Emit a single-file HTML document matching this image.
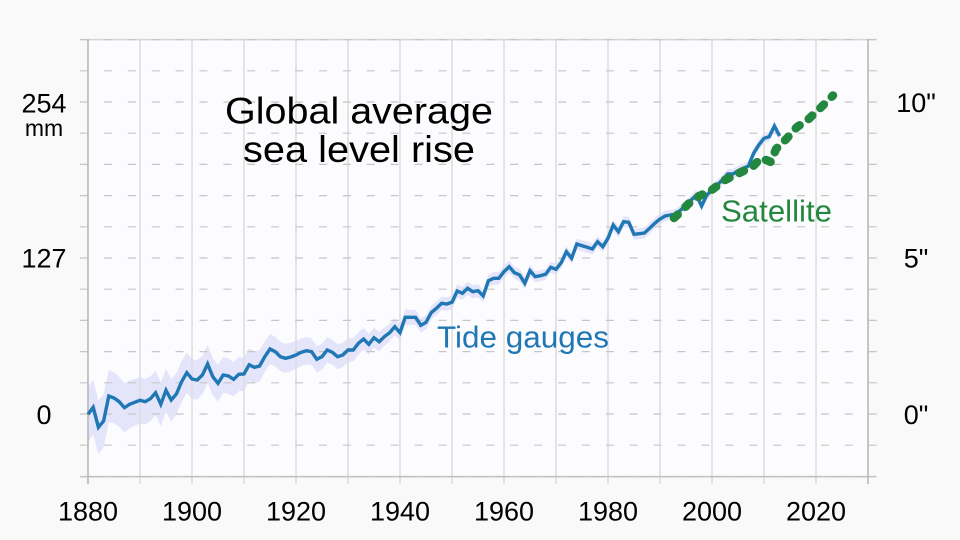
<!DOCTYPE html>
<html>
<head>
<meta charset="utf-8">
<style>
  html, body { margin: 0; padding: 0; background: #f9f9f9; }
  svg { display: block; }
  text { font-family: "Liberation Sans", Arial, sans-serif; }
</style>
</head>
<body>
<svg width="960" height="540" viewBox="0 0 960 540" xmlns="http://www.w3.org/2000/svg">
  <rect x="0" y="0" width="960" height="540" fill="#f9f9f9"/>
  <rect x="88" y="40" width="780" height="436.6" fill="#fcfcff"/>

  <!-- uncertainty band -->
  <g transform="translate(88 0) scale(5.2 1)">
    <polygon fill="#e4e4fb" stroke="none" points="0,386.3 1,379.8 2,400.3 3,394.5 4,370 5,372.5 6,376.7 7,383.2 8,380.3 9,378.8 10,377.3 11,379 12,376.3 13,370.6 14,382.5 15,368.8 16,378.8 17,373.1 18,361.1 19,352.4 20,359 21,360.3 22,355.7 23,345 24,358 25,365 26,357 27,358.3 28,362 29,357.3 30,357.3 31,348.4 32,351.3 33,350.3 34,341.4 35,334 36,336.9 37,342.1 38,343.9 39,342.8 40,341 41,338.5 42,337.1 43,338.3 44,346.1 45,343.7 46,337.2 47,339.7 48,344.3 49,342.8 50,338 51,338.4 52,332.1 53,328.2 54,333.9 55,327.7 56,332.1 57,327.5 58,323.9 59,318.3 60,324.7 61,309.5 62,309.7 63,309.9 64,318.1 65,315.3 66,305.8 67,301.4 68,296.5 69,297.2 70,295.6 71,284.3 72,286.7 73,281.7 74,285.2 75,284.2 76,289.6 77,274.3 78,272 79,272 80,265.5 81,260.5 82,266.6 83,268.9 84,277.3 85,264.7 86,271.2 87,270.2 88,268.8 89,261.8 90,263.8 91,257.2 92,246.2 93,252.8 94,238.5 95,240.2 96,241.8 97,243.5 98,236.2 99,241.2 100,232.8 101,219.5 102,226.2 103,216.2 104,216.8 105,228.8 106,228.2 107,227.5 108,222.8 109,217.8 110,213.5 111,211 112,210 113,209 114,205 115,200 116,195 117,190 118,201 119,190 120,185 121,180 122,175 123,169 124,169 125,165.7 126,163.3 127,161 128,148.3 129,140 130,133.3 131,131.7 132,121 133,131 133,141 132,131 131,141.7 130,143.3 129,150 128,158.3 127,171 126,173.3 125,175.7 124,179 123,179 122,185 121,190 120,195 119,200 118,211 117,200 116,205 115,210 114,215 113,219 112,220 111,221 110,224.5 109,228.8 108,233.8 107,238.5 106,239.2 105,239.8 104,227.8 103,227.2 102,237.2 101,230.5 100,243.8 99,252.2 98,247.2 97,254.5 96,252.8 95,251.2 94,249.5 93,263.8 92,257.2 91,268.2 90,274.8 89,272.8 88,279.8 87,281.2 86,282.2 85,276.7 84,289.3 83,281.1 82,278.8 81,272.9 80,277.9 79,284.6 78,284.6 77,287.1 76,302.4 75,297.2 74,298.2 73,294.9 72,300 71,297.7 70,309 69,310.8 68,310.1 67,315.2 66,319.6 65,329.3 64,332.5 63,324.7 62,324.9 61,325.1 60,340.7 59,335.1 58,341.5 57,345.9 56,351.3 55,347.7 54,354.7 53,349.8 52,354.5 51,361.6 50,362 49,367.2 48,369.1 47,364.9 46,362.8 45,369.7 44,372.5 43,365.1 42,364.3 41,366.1 40,369 39,371.2 38,372.7 37,371.3 36,366.5 35,364 34,372 33,381.7 32,383.3 31,381 30,390.7 29,391.3 28,396.6 27,393.7 26,393 25,401.6 24,395.4 23,383 22,394.3 21,399.7 20,399 19,393 18,402.3 17,414.9 16,421.2 15,411.8 14,426.1 13,414.8 12,421.1 11,424.4 10,423.3 9,425.8 8,428.3 7,432.2 6,426.7 5,423.5 4,422 3,447.5 2,454.3 1,434.8 0,442.3"/>
  </g>

  <!-- vertical gridlines -->
  <path d="M140 40V484 M192 40V484 M244 40V484 M296 40V484 M348 40V484 M400 40V484 M452 40V484 M504 40V484 M556 40V484 M608 40V484 M660 40V484 M712 40V484 M764 40V484 M816 40V484" stroke="#dcdcdc" stroke-width="1.5" fill="none"/>

  <!-- top / bottom borders -->
  <line x1="80" y1="39.6" x2="876" y2="39.6" stroke="#d4d4d4" stroke-width="1.5"/>
  <line x1="80" y1="476.6" x2="876" y2="476.6" stroke="#bdbdbd" stroke-width="1.5"/>

  <!-- horizontal dashed gridlines -->
  <g stroke="#c6c6c6" stroke-width="1.2" stroke-dasharray="8 15.9" fill="none">
    <line x1="80" y1="39.6" x2="877" y2="39.6"/>
    <line x1="80" y1="70.8" x2="877" y2="70.8"/>
    <line x1="80" y1="102" x2="877" y2="102"/>
    <line x1="80" y1="133.2" x2="877" y2="133.2"/>
    <line x1="80" y1="164.4" x2="877" y2="164.4"/>
    <line x1="80" y1="195.6" x2="877" y2="195.6"/>
    <line x1="80" y1="226.8" x2="877" y2="226.8"/>
    <line x1="80" y1="258" x2="877" y2="258"/>
    <line x1="80" y1="289.2" x2="877" y2="289.2"/>
    <line x1="80" y1="320.4" x2="877" y2="320.4"/>
    <line x1="80" y1="351.6" x2="877" y2="351.6"/>
    <line x1="80" y1="382.8" x2="877" y2="382.8"/>
    <line x1="80" y1="414" x2="877" y2="414"/>
    <line x1="80" y1="445.2" x2="877" y2="445.2"/>
    <line x1="80" y1="476.6" x2="877" y2="476.6"/>
  </g>

  <!-- axes -->
  <line x1="88" y1="39" x2="88" y2="484" stroke="#b8b8b8" stroke-width="1.6"/>
  <line x1="868" y1="39" x2="868" y2="484" stroke="#b8b8b8" stroke-width="1.6"/>

  <!-- tide gauge line -->
  <g transform="translate(88 0) scale(5.2 1)">
    <polyline vector-effect="non-scaling-stroke" fill="none" stroke="#1f77b4" stroke-width="3.4" stroke-linejoin="miter" stroke-miterlimit="4"
      points="0,414.3 1,407.3 2,427.3 3,421 4,396 5,398 6,401.7 7,407.7 8,404.3 9,402.3 10,400.3 11,401.7 12,398.7 13,392.7 14,404.3 15,390.3 16,400 17,394 18,381.7 19,372.7 20,379 21,380 22,375 23,364 24,376.7 25,383.3 26,375 27,376 28,379.3 29,374.3 30,374 31,364.7 32,367.3 33,366 34,356.7 35,349 36,351.7 37,356.7 38,358.3 39,357 40,355 41,352.3 42,350.7 43,351.7 44,359.3 45,356.7 46,350 47,352.3 48,356.7 49,355 50,350 51,350 52,343.3 53,339 54,344.3 55,337.7 56,341.7 57,336.7 58,332.7 59,326.7 60,332.7 61,317.3 62,317.3 63,317.3 64,325.3 65,322.3 66,312.7 67,308.3 68,303.3 69,304 70,302.3 71,291 72,293.3 73,288.3 74,291.7 75,290.7 76,296 77,280.7 78,278.3 79,278.3 80,271.7 81,266.7 82,272.7 83,275 84,283.3 85,270.7 86,276.7 87,275.7 88,274.3 89,267.3 90,269.3 91,262.7 92,251.7 93,258.3 94,244 95,245.7 96,247.3 97,249 98,241.7 99,246.7 100,238.3 101,225 102,231.7 103,221.7 104,222.3 105,234.3 106,233.7 107,233 108,228.3 109,223.3 110,219 111,216 112,215 113,214 114,210 115,205 116,200 117,195 118,206 119,195 120,190 121,185 122,180 123,174 124,174 125,170.7 126,168.3 127,166 128,153.3 129,145 130,138.3 131,136.7 132,126 133,136"/>
  </g>

  <!-- satellite dotted line -->
  <polyline fill="none" stroke="#23873f" stroke-width="8.5" stroke-linecap="round" stroke-linejoin="round" stroke-dasharray="5 11"
    points="674,218 677.3,215 688.3,204 699.3,196 711.7,190 725,180 740,172.7 753.3,166 761,158 771,162 776,149 786,139.3 796.7,127.3 808.3,119.3 818.3,110 833,95.5"/>

  <!-- title -->
  <text x="225" y="123.3" font-size="37" fill="#000" textLength="268" lengthAdjust="spacingAndGlyphs">Global average</text>
  <text x="243" y="162" font-size="37" fill="#000" textLength="232" lengthAdjust="spacingAndGlyphs">sea level rise</text>

  <!-- series labels -->
  <text x="437" y="347.7" font-size="31" fill="#1f77b4" textLength="172" lengthAdjust="spacingAndGlyphs">Tide gauges</text>
  <text x="721" y="221.7" font-size="31" fill="#23873f" textLength="111" lengthAdjust="spacingAndGlyphs">Satellite</text>

  <!-- left axis labels -->
  <g font-size="27" fill="#000" text-anchor="middle">
    <text x="44" y="112.7">254</text>
    <text x="44" y="267.6">127</text>
    <text x="44" y="423.8">0</text>
  </g>
  <text x="44" y="136" font-size="23" fill="#000" text-anchor="middle">mm</text>

  <!-- right axis labels -->
  <g font-size="27" fill="#000" text-anchor="middle">
    <text x="916" y="112">10"</text>
    <text x="916" y="267.6">5"</text>
    <text x="916" y="423.8">0"</text>
  </g>

  <!-- x axis labels -->
  <g font-size="27" fill="#000" text-anchor="middle">
    <text x="88" y="520.7">1880</text>
    <text x="192" y="520.7">1900</text>
    <text x="296" y="520.7">1920</text>
    <text x="400" y="520.7">1940</text>
    <text x="504" y="520.7">1960</text>
    <text x="608" y="520.7">1980</text>
    <text x="712" y="520.7">2000</text>
    <text x="816" y="520.7">2020</text>
  </g>
</svg>
</body>
</html>
